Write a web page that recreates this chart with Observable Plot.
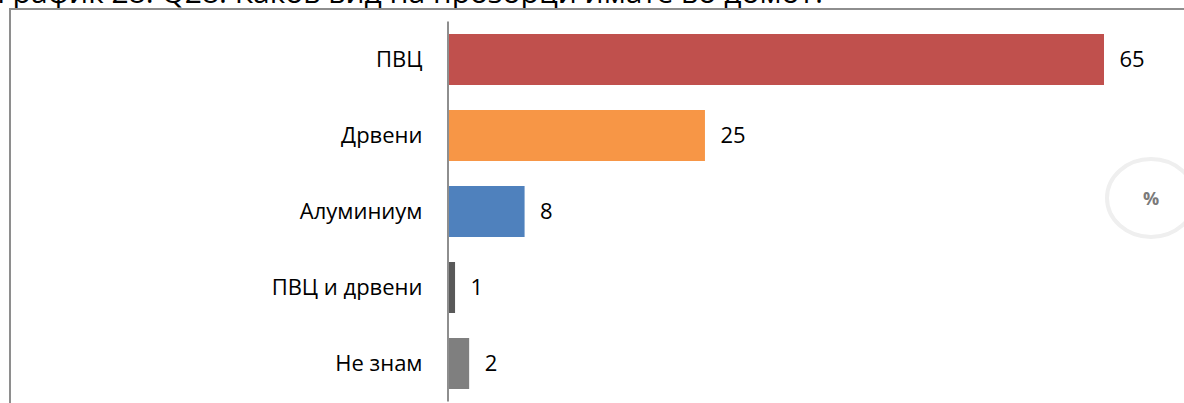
<!DOCTYPE html>
<html>
<head>
<meta charset="utf-8">
<script src="https://cdn.jsdelivr.net/npm/d3@7"></script>
<script src="https://cdn.jsdelivr.net/npm/@observablehq/plot@0.6"></script>
<style>
  html, body { margin: 0; padding: 0; background: #fff; }
  #wrap { position: relative; width: 1184px; height: 403px; overflow: hidden; background: #fff; }
  #title { position: absolute; left: -3px; top: -23px; font-family: "Open Sans", sans-serif; font-size: 30px; line-height: 30px; color: #000; white-space: nowrap; }
  #frame { position: absolute; left: 9px; top: 8px; width: 1300px; height: 600px; border: 2px solid #8e8e8e; box-sizing: border-box; }
  #chart { position: absolute; left: 0; top: 0; }
</style>
</head>
<body>
<div id="wrap">
  <div id="title">График 28: Q28: Каков вид на прозорци имате во домот?</div>
  <div id="frame"></div>
  <div id="chart"></div>
</div>
<script>
const categories = ["ПВЦ", "Дрвени", "Алуминиум", "ПВЦ и дрвени", "Не знам"];
const values = [65, 25.4, 7.5, 0.6, 2.0];
const labels = [65, 25, 8, 1, 2];
const colors = ["#C0504D", "#F79646", "#4F81BD", "#595959", "#7F7F7F"];

const data = categories.map((c, i) => ({category: c, value: values[i], label: labels[i], color: colors[i]}));

const plot = Plot.plot({
  width: 1184,
  height: 403,
  marginLeft: 449,
  marginRight: 80,
  marginTop: 21.5,
  marginBottom: 1.5,
  style: {fontFamily: "Open Sans, sans-serif", fontSize: "22px", color: "#000", background: "transparent", overflow: "visible"},
  x: {domain: [0, 65], axis: null},
  y: {domain: categories, paddingInner: 0.33, paddingOuter: 0.165, label: null},
  marks: [
    Plot.barX(data, {y: "category", x: "value", fill: "color"}),
    Plot.ruleX([0], {stroke: "#8e8e8e", strokeWidth: 2, dx: -1.5}),
    Plot.text(data, {y: "category", x: "value", text: d => String(d.label), dx: 15, textAnchor: "start", fill: "#000", fontSize: 22}),
    Plot.axisY({tickSize: 0, tickPadding: 27, fontSize: 22, label: null, fill: "#000"})
  ]
});
document.getElementById("chart").appendChild(plot);

const svg = d3.select(plot);
svg.append("ellipse")
  .attr("cx", 1151).attr("cy", 198).attr("rx", 44).attr("ry", 39)
  .attr("fill", "none").attr("stroke", "#efefef").attr("stroke-width", 4);
svg.append("text")
  .attr("x", 1151).attr("y", 198)
  .attr("text-anchor", "middle").attr("dominant-baseline", "central")
  .attr("font-family", "Open Sans, sans-serif").attr("font-size", 18).attr("font-weight", "bold")
  .attr("fill", "#7a7a7a")
  .text("%");
</script>
</body>
</html>
